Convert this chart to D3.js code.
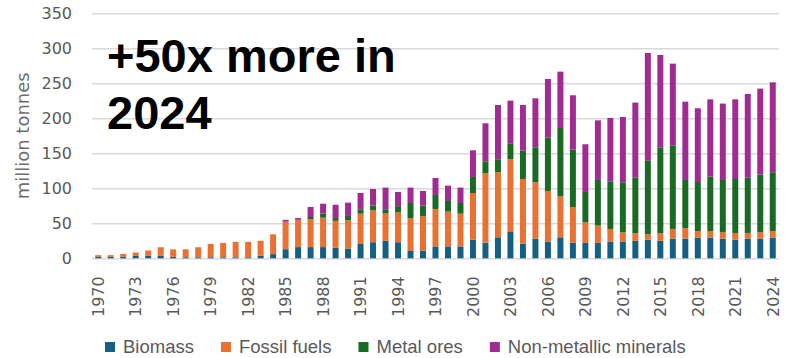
<!DOCTYPE html>
<html>
<head>
<meta charset="utf-8">
<script src="https://cdn.jsdelivr.net/npm/d3@7"></script>
<style>
  body { margin: 0; background: #fff; }
  svg { display: block; }
</style>
</head>
<body>
<svg id="chart" width="789" height="358"></svg>
<script>
// Categories: one stacked bar per year
const years = [
  1970, 1971, 1972, 1973, 1974, 1975, 1976, 1977, 1978, 1979,
  1980, 1981, 1982, 1983, 1984, 1985, 1986, 1987, 1988, 1989,
  1990, 1991, 1992, 1993, 1994, 1995, 1996, 1997, 1998, 1999,
  2000, 2001, 2002, 2003, 2004, 2005, 2006, 2007, 2008, 2009,
  2010, 2011, 2012, 2013, 2014, 2015, 2016, 2017, 2018, 2019,
  2020, 2021, 2022, 2023, 2024
];

// Series values, million tonnes
const biomass = [
  2, 2, 2, 4, 4, 4, 2, 1.5, 1.5, 1.5,
  1.5, 1.5, 1.5, 4, 6, 13, 16, 16, 16, 15,
  14, 20.5, 23, 25, 23, 10.5, 11, 17, 17, 17,
  26.7, 22.4, 30, 37.6, 21, 28, 24, 30, 22, 22,
  22, 24, 24, 25, 26.7, 25, 28, 28, 29.5, 29.5,
  28, 26.7, 28, 28, 29.5
];
const fossilFuels = [
  2.5, 2.5, 4.3, 4.3, 7.2, 11.8, 10.8, 11.3, 14.3, 19,
  20.5, 22, 22, 21, 28.3, 39, 38.5, 40, 42, 38.5,
  40.5, 43.3, 45.5, 39, 42.5, 47, 49.5, 53.5, 49.7, 46.8,
  66.6, 99, 93, 103.8, 92.3, 80.6, 72.2, 58.6, 51.3, 29.4,
  24.7, 17.9, 13.1, 10.7, 7.6, 10.7, 13.9, 15.3, 9.5, 9.5,
  9.6, 9.5, 8.2, 9.6, 9.5
];
const metalOres = [
  0, 0, 0, 0, 0, 0, 0, 0, 0, 0,
  0, 0, 0, 0, 0, 0.5, 0.5, 3, 6, 4,
  6, 6.2, 7, 6, 9, 21.5, 15, 20, 15.2, 15.2,
  22.9, 17.2, 18.5, 22.9, 40.5, 50, 76.2, 97.6, 81.9, 43.4,
  65.2, 68.1, 71.5, 79.5, 105.7, 122.9, 119.5, 68.6, 70, 77.7,
  74.3, 77.1, 79, 81.9, 83.9
];
const nonMetallic = [
  0, 0, 0, 0, 0, 0, 0, 0, 0, 0,
  0, 0, 0, 0, 0, 2.5, 2.5, 14.3, 14, 19,
  19, 23.3, 23.5, 31, 20.3, 22, 20.7, 24.3, 21.9, 22,
  38.1, 54.3, 77.5, 60.9, 65.2, 70, 83.8, 80.5, 77.7, 68.1,
  85.2, 90.5, 93.3, 107.2, 153.3, 131.9, 116.7, 111.9, 105.3, 110.4,
  109.1, 113.8, 119.6, 122.9, 128.5
];

const seriesNames = ["Biomass", "Fossil fuels", "Metal ores", "Non-metallic minerals"];
const seriesColors = ["#156082", "#E97132", "#196B24", "#A02B93"];

// Axis ticks
const yTicks = [0, 50, 100, 150, 200, 250, 300, 350];
const xTickYears = [1970, 1973, 1976, 1979, 1982, 1985, 1988, 1991, 1994, 1997,
                    2000, 2003, 2006, 2009, 2012, 2015, 2018, 2021, 2024];

const yTitle = "million tonnes";
const headline = ["+50x more in", "2024"];

// Row table for d3.stack
const seriesArrays = [biomass, fossilFuels, metalOres, nonMetallic];
const table = years.map((yr, i) => {
  const row = { year: yr };
  seriesNames.forEach((name, k) => { row[name] = seriesArrays[k][i]; });
  return row;
});

const svg = d3.select("#chart");
const plotLeft = 92, plotRight = 779, plotTop = 13.3, plotBottom = 258.3;

const x = d3.scaleBand()
  .domain(years)
  .range([plotLeft, plotRight])
  .paddingInner(0.52)
  .paddingOuter(0.26);

const y = d3.scaleLinear()
  .domain([0, 350])
  .range([plotBottom, plotTop]);

const tickFont = "'DejaVu Sans', sans-serif";

// Y axis with gridlines
const yAxis = svg.append("g")
  .attr("transform", `translate(${plotLeft},0)`)
  .call(d3.axisLeft(y).tickValues(yTicks).tickSize(-(plotRight - plotLeft)).tickPadding(20));
yAxis.select(".domain").remove();
yAxis.selectAll(".tick line").attr("stroke", "#d9d9d9").attr("stroke-width", 1.6);
yAxis.selectAll(".tick text")
  .attr("fill", "#595959")
  .style("font-family", tickFont)
  .style("font-size", "16px");

// Y axis title
svg.append("text")
  .attr("transform", `translate(23,${(plotTop + plotBottom) / 2}) rotate(-90)`)
  .attr("text-anchor", "middle")
  .attr("dy", "0.35em")
  .attr("fill", "#6e6e6e")
  .style("font-family", tickFont)
  .style("font-size", "18px")
  .text(yTitle);

// Stacked bars
const stacked = d3.stack().keys(seriesNames)(table);
svg.append("g")
  .selectAll("g")
  .data(stacked)
  .join("g")
  .attr("fill", (d, i) => seriesColors[i])
  .selectAll("rect")
  .data(d => d)
  .join("rect")
  .attr("x", d => x(d.data.year))
  .attr("width", x.bandwidth())
  .attr("y", d => y(d[1]))
  .attr("height", d => Math.max(0, y(d[0]) - y(d[1])));

// X axis labels, rotated
const xAxis = svg.append("g")
  .attr("transform", `translate(0,${plotBottom})`)
  .call(d3.axisBottom(x).tickValues(xTickYears).tickSize(0));
xAxis.select(".domain").remove();
xAxis.selectAll(".tick text")
  .attr("transform", "rotate(-90)")
  .attr("x", -18)
  .attr("y", 0)
  .attr("dy", "0.36em")
  .style("text-anchor", "end")
  .attr("fill", "#595959")
  .style("font-family", tickFont)
  .style("font-size", "16px");

// Headline
const head = svg.append("text")
  .attr("x", 107)
  .attr("fill", "#000")
  .style("font-family", "'Liberation Sans', Arial, sans-serif")
  .style("font-weight", "bold")
  .style("font-size", "47px");
head.append("tspan").attr("x", 107).attr("y", 71.7).text(headline[0]);
head.append("tspan").attr("x", 107).attr("y", 129.3).text(headline[1]);

// Legend, laid out left to right
const legend = svg.append("g").attr("transform", "translate(105,347)");
let cursor = 0;
seriesNames.forEach((name, i) => {
  const item = legend.append("g").attr("transform", `translate(${cursor},0)`);
  item.append("rect")
    .attr("x", 0).attr("y", -5).attr("width", 10).attr("height", 10)
    .attr("fill", seriesColors[i]);
  const t = item.append("text")
    .attr("x", 18).attr("y", 0).attr("dy", "0.35em")
    .attr("fill", "#595959")
    .style("font-family", "'Liberation Sans', Arial, sans-serif")
    .style("font-size", "18.5px")
    .text(name);
  cursor += 18 + t.node().getComputedTextLength() + 27;
});
</script>
</body>
</html>
